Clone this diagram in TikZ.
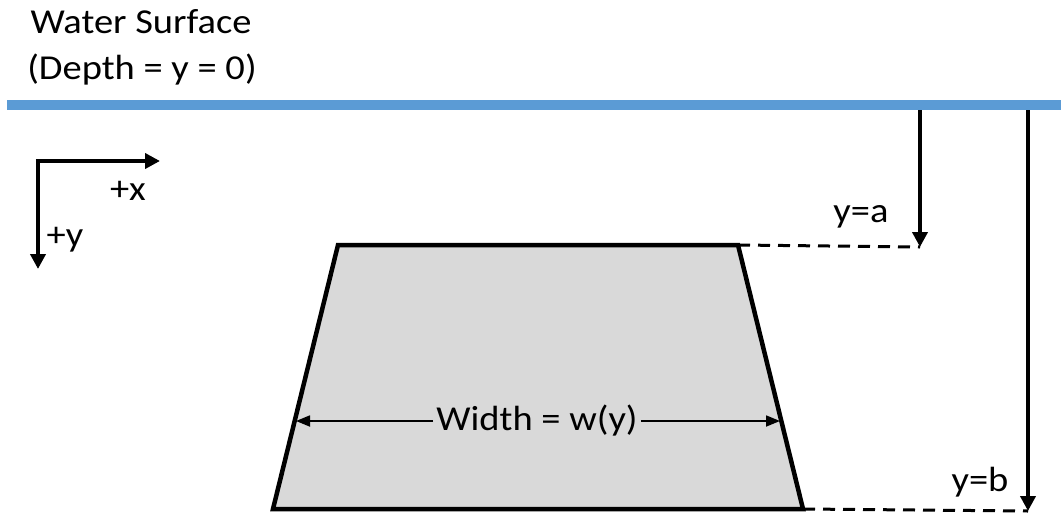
\documentclass[tikz,border=0pt]{standalone}
\usepackage{fontspec}
\newfontfamily\calfont[FakeStretch=1.1]{Carlito}
\usetikzlibrary{arrows.meta}
\definecolor{waterblue}{HTML}{5B9BD5}
\definecolor{bodygray}{HTML}{D9D9D9}
\begin{document}
\begin{tikzpicture}[x=1pt,y=-1pt,
  lab/.style={font=\calfont\fontsize{35}{40}\selectfont, inner sep=0pt, anchor=base},
  thickarrow/.style={line width=4.5pt, -{Triangle[length=15pt,width=15pt]}},
  thinarrow/.style={line width=1.8pt, -{Triangle[length=14pt,width=11pt]}},
  dashline/.style={line width=3pt, dash pattern=on 12pt off 8pt}]
\useasboundingbox (0,0) rectangle (1061,512);
% water surface
\coordinate (wsL) at (7,105);
\coordinate (wsR) at (1061,105);
\draw[waterblue, line width=10pt] (wsL) -- (wsR);
\node[lab] (wst) at (141,33) {Water Surface};
\node[lab] (dep) at (142,79) {(Depth = y = 0)};
% axes
\coordinate (ax0) at (38,161);
\coordinate (axx) at (160,161);
\coordinate (axy) at (38,269);
\draw[thickarrow] ([xshift=-2.25pt]ax0) -- (axx);
\draw[thickarrow] (ax0) -- (axy);
\node[lab] (px) at (128,200) {+x};
\node[lab] (py) at (65,246) {+y};
% trapezoid
\coordinate (tl) at (338,245);
\coordinate (tr) at (738,245);
\coordinate (br) at (803,509);
\coordinate (bl) at (273,509);
\draw[fill=bodygray, line width=4.5pt, line join=miter] (tl) -- (tr) -- (br) -- (bl) -- cycle;
% width label
\node[lab, anchor=center, inner xsep=3pt] (wl) at (537,421) {\raisebox{-0.3ex}{Width = w(y)}};
\coordinate (wL) at (296,421);
\coordinate (wR) at (780,421);
\draw[thinarrow] (wl.west) -- (wL);
\draw[thinarrow] (wl.east) -- (wR);
% depth arrows
\coordinate (aTop) at (920,110);
\coordinate (aBot) at (920,247);
\coordinate (bTop) at (1028,110);
\coordinate (bBot) at (1028,511);
\draw[thickarrow] (aTop) -- (aBot);
\draw[thickarrow] (bTop) -- (bBot);
\draw[dashline] (tr) -- (aBot);
\draw[dashline] (br) -- (bBot);
\node[lab] (ya) at (861,222) {y=a};
\node[lab] (yb) at (980,491) {y=b};
\end{tikzpicture}
\end{document}
